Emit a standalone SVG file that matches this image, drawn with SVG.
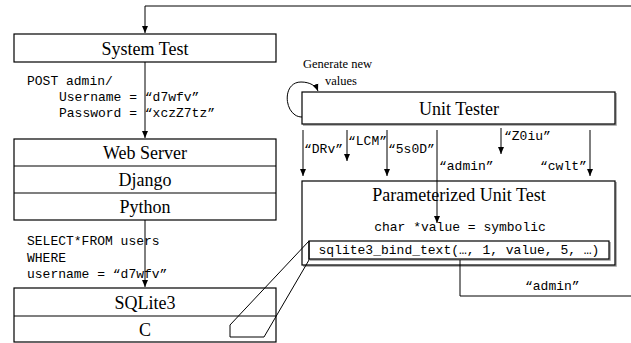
<svg xmlns="http://www.w3.org/2000/svg" width="631" height="343" viewBox="0 0 631 343">
<style>
.box{fill:#fff;stroke:#000;stroke-width:1.2}
.div{stroke:#000;stroke-width:1.2;fill:none}
.t{font-family:"Liberation Serif","Times New Roman",serif;font-size:18px;text-anchor:middle;fill:#000}
.s{font-family:"Liberation Serif","Times New Roman",serif;font-size:12.5px;fill:#000}
.m{font-family:"Liberation Mono","Courier New",monospace;font-size:13px;fill:#000}
.c{stroke:#000;stroke-width:1;fill:none}
.sh{fill:none;stroke:#999;stroke-width:1.5}
</style>
<defs>
<marker id="ah" markerWidth="8" markerHeight="8" refX="7" refY="4" orient="auto" markerUnits="userSpaceOnUse">
<path d="M0,1 L7,4 L0,7 Z" fill="#000"/>
</marker>
</defs>
<rect width="631" height="343" fill="#fff"/>

<g id="system-test">
<rect class="box" x="14" y="34" width="262" height="28"/>
<text class="t" x="145" y="55">System Test</text>
</g>

<g id="web-server">
<rect class="box" x="14" y="139" width="262" height="81"/>
<line class="div" x1="14" y1="166" x2="276" y2="166"/>
<line class="div" x1="14" y1="193" x2="276" y2="193"/>
<text class="t" x="145" y="159">Web Server</text>
<text class="t" x="145" y="186">Django</text>
<text class="t" x="145" y="213">Python</text>
</g>

<g id="sqlite3">
<rect class="box" x="14" y="288" width="262" height="54"/>
<line class="div" x1="14" y1="316" x2="276" y2="316"/>
<text class="t" x="145" y="309">SQLite3</text>
<text class="t" x="145" y="336">C</text>
</g>

<g id="unit-tester">
<polyline class="sh" points="616,93 616,125 303,125"/>
<rect class="box" x="302" y="92" width="313" height="32"/>
<text class="t" x="459" y="115">Unit Tester</text>
</g>

<g id="parameterized-unit-test">
<polyline class="sh" points="616,182 616,266 303,266"/>
<rect class="box" x="302" y="181" width="313" height="84"/>
<text class="t" x="459" y="201">Parameterized Unit Test</text>
<text class="m" x="460" y="231" text-anchor="middle">char *value = symbolic</text>
<g id="bind-text">
<polyline class="sh" points="610,242 610,260 310,260"/>
<rect class="box" x="309" y="241" width="300" height="18"/>
<text class="m" x="459" y="254" text-anchor="middle">sqlite3_bind_text(…, 1, value, 5, …)</text>
</g>
</g>

<g id="connectors">
<polyline class="c" points="631,6 145,6 145,33" marker-end="url(#ah)"/>
<line class="c" x1="145" y1="62" x2="145" y2="138" marker-end="url(#ah)"/>
<line class="c" x1="145" y1="220" x2="145" y2="287" marker-end="url(#ah)"/>
<path class="c" d="M302,117 C284,117 281,82 301,82 C310,82 316,86 318,91" marker-end="url(#ah)"/>
<line class="c" x1="303" y1="130" x2="303" y2="176" marker-end="url(#ah)"/>
<line class="c" x1="347" y1="130" x2="347" y2="161" marker-end="url(#ah)"/>
<line class="c" x1="387" y1="130" x2="387" y2="176" marker-end="url(#ah)"/>
<line class="c" x1="437" y1="130" x2="437" y2="223" marker-end="url(#ah)"/>
<line class="c" x1="501" y1="128" x2="501" y2="154" marker-end="url(#ah)"/>
<line class="c" x1="590" y1="130" x2="590" y2="176" marker-end="url(#ah)"/>
<polyline class="c" points="460,260 460,296 631,296"/>
<polygon class="c" points="309,241 230,325 230,337 264,337 309,260"/>
</g>

<g id="labels">
<text class="m" x="27" y="85">POST admin/</text>
<text class="m" x="59" y="101">Username = “d7wfv”</text>
<text class="m" x="59" y="117">Password = “xczZ7tz”</text>
<text class="m" x="27" y="245">SELECT*FROM users</text>
<text class="m" x="27" y="262">WHERE</text>
<text class="m" x="27" y="278">username = “d7wfv”</text>
<text class="s" x="303" y="68">Generate new</text>
<text class="s" x="325" y="85">values</text>
<text class="m" x="304" y="153">“DRv”</text>
<text class="m" x="348" y="145">“LCM”</text>
<text class="m" x="388" y="153">“5s0D”</text>
<text class="m" x="439" y="170">“admin”</text>
<text class="m" x="504" y="140">“Z0iu”</text>
<text class="m" x="540" y="170">“cwlt”</text>
<text class="m" x="525" y="290">“admin”</text>
</g>
</svg>
